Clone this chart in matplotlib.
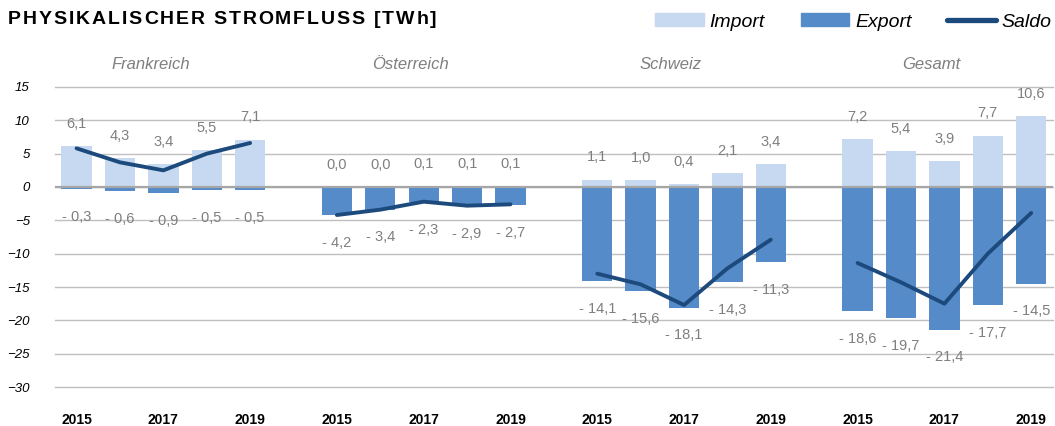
import numpy as np
import matplotlib.pyplot as plt
from matplotlib.patches import Patch
from matplotlib.lines import Line2D

plt.rcParams['font.family'] = ['Liberation Sans', 'DejaVu Sans']

# Daten (TWh)
regions = ["Frankreich", "Österreich", "Schweiz", "Gesamt"]
years = ["2015", "2016", "2017", "2018", "2019"]

import_fr = [6.1, 4.3, 3.4, 5.5, 7.1]
import_at = [0.0, 0.0, 0.1, 0.1, 0.1]
import_ch = [1.1, 1.0, 0.4, 2.1, 3.4]
import_ges = [7.2, 5.4, 3.9, 7.7, 10.6]

export_fr = [-0.3, -0.6, -0.9, -0.5, -0.5]
export_at = [-4.2, -3.4, -2.3, -2.9, -2.7]
export_ch = [-14.1, -15.6, -18.1, -14.3, -11.3]
export_ges = [-18.6, -19.7, -21.4, -17.7, -14.5]

saldo_fr = [5.8, 3.7, 2.5, 5.0, 6.6]
saldo_at = [-4.2, -3.4, -2.2, -2.8, -2.6]
saldo_ch = [-13.0, -14.6, -17.7, -12.2, -7.9]
saldo_ges = [-11.4, -14.3, -17.5, -10.0, -3.9]

imports = [import_fr, import_at, import_ch, import_ges]
exports = [export_fr, export_at, export_ch, export_ges]
saldos = [saldo_fr, saldo_at, saldo_ch, saldo_ges]

c_import = '#c6d9f0'
c_export = '#568bc9'
c_saldo = '#1d4a7c'
c_label = '#7f7f7f'


def fmt(v):
    s = f"{abs(v):.1f}".replace('.', ',')
    return "- " + s if v < 0 else s


fig = plt.figure(figsize=(10.55, 4.26), dpi=100)
ax = fig.add_axes([0.052, 0.0915, 0.946, 0.7043])

bar_w = 0.7
tick_pos = []
tick_lab = []
for g, name in enumerate(regions):
    x = np.arange(len(years)) + g * 6
    ax.bar(x, imports[g], width=bar_w, color=c_import, zorder=2)
    ax.bar(x, exports[g], width=bar_w, color=c_export, zorder=2)
    ax.plot(x, saldos[g], color=c_saldo, lw=2.8, solid_capstyle='round',
            solid_joinstyle='round', zorder=4)
    for xi, vi, ve in zip(x, imports[g], exports[g]):
        ax.annotate(fmt(vi), (xi, vi), xytext=(0, 16), textcoords='offset points',
                    ha='center', va='center', fontsize=10.5, color=c_label)
        ax.annotate(fmt(ve), (xi, ve), xytext=(0, -20), textcoords='offset points',
                    ha='center', va='center', fontsize=10.5, color=c_label)
    ax.text(x[2] - 0.3, 18.3, name, ha='center', va='center', fontsize=12,
            style='italic', color=c_label, clip_on=False)
    for i in (0, 2, 4):
        tick_pos.append(x[i])
        tick_lab.append(years[i])

ax.set_xlim(-0.5, 22.5)
ax.set_ylim(-30, 15)
ax.set_yticks(np.arange(-30, 16, 5))
ax.set_xticks(tick_pos)
ax.set_xticklabels(tick_lab, fontweight='bold', fontsize=10)
for lab in ax.get_yticklabels():
    lab.set_fontstyle('italic')
    lab.set_fontsize(9.5)
ax.tick_params(axis='x', length=0, pad=19)
ax.tick_params(axis='y', length=0, pad=18)

ax.grid(axis='y', color='#bfbfbf', lw=1, zorder=0)
for gl in ax.get_ygridlines():
    gl.set_clip_on(False)
ax.axhline(0, color='#a6a6a6', lw=1.6, zorder=3)
for s in ax.spines.values():
    s.set_visible(False)

# Titel mit Sperrung
title = "PHYSIKALISCHER STROMFLUSS [TWh]"
renderer = fig.canvas.get_renderer()
xpos = 8
spacing = 1.9
for ch in title:
    t = fig.text(xpos / 1055, 0.955, ch, fontsize=14, fontweight='bold',
                 ha='left', va='center')
    if ch == " ":
        w = 5
    else:
        w = t.get_window_extent(renderer).width
    xpos += w + spacing

handles = [Patch(color=c_import), Patch(color=c_export),
           Line2D([0], [0], color=c_saldo, lw=3.8, solid_capstyle='round')]
fig.legend(handles, ["Import", "Export", "Saldo"], loc='center right',
           bbox_to_anchor=(1.01, 0.948), ncol=3, frameon=False,
           prop={'style': 'italic', 'size': 14}, handlelength=2.5,
           handleheight=0.65, handletextpad=0.3, columnspacing=1.85,
           borderpad=0.2)

fig.savefig("out.png", dpi=100)
